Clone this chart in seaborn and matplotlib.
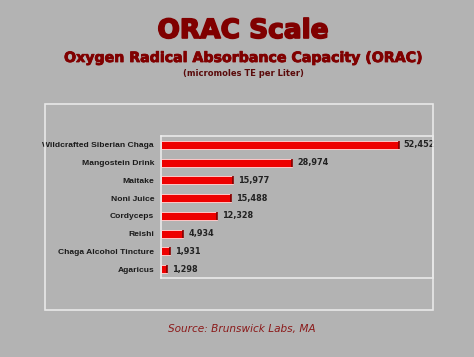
import matplotlib
matplotlib.use("Agg")
import matplotlib.pyplot as plt
import matplotlib.patheffects as pe
from matplotlib.patches import Rectangle
import pandas as pd
import seaborn as sns

# ORAC values (micromoles TE per liter)
products = ["Wildcrafted Siberian Chaga", "Mangostein Drink", "Maitake", "Noni Juice",
            "Cordyceps", "Reishi", "Chaga Alcohol Tincture", "Agaricus"]
orac = [52452, 28974, 15977, 15488, 12328, 4934, 1931, 1298]

df = pd.DataFrame({"product": products, "orac": orac})

bg = "#b3b3b3"
dark_red = "#800000"

sns.set_style("white", {"axes.facecolor": bg, "figure.facecolor": bg})
plt.rcParams["font.family"] = ["DejaVu Sans"]

fig = plt.figure(figsize=(4.74, 3.57), dpi=100)
fig.patch.set_facecolor(bg)

# outer frame around the chart
fig.patches.append(Rectangle((45 / 474, 47 / 357), 388 / 474, 206 / 357,
                             transform=fig.transFigure, fill=False,
                             edgecolor="#e8e8e8", linewidth=1.2))

ax = fig.add_axes([161 / 474, 79 / 357, 272 / 474, 142 / 357])
ax.set_facecolor(bg)

sns.barplot(data=df, x="orac", y="product", color="#ee0000", width=0.46,
            edgecolor="#ffc8c8", linewidth=0.7, saturation=1, ax=ax)

# darker cap at the end of each bar
ax.vlines(df["orac"], [i - 0.23 for i in range(len(df))], [i + 0.23 for i in range(len(df))],
          color="#7a0000", linewidth=1.2)

for i, v in enumerate(orac):
    ax.text(v + 1100, i, f"{v:,}", va="center", ha="left", fontsize=5.9,
            fontweight="bold", color="#222222")

ax.set_xlim(0, 60000)
ax.set_ylim(7.5, -0.5)
ax.set_xlabel("")
ax.set_ylabel("")
ax.set_xticks([])
ax.tick_params(axis="y", length=3, color="white", width=0.8, pad=2,
               labelsize=6.1, labelcolor="#1a1a1a")
for lbl in ax.get_yticklabels():
    lbl.set_fontweight("bold")
    lbl.set_family(["Liberation Sans"])
for side in ["left", "top", "bottom", "right"]:
    ax.spines[side].set_color("#eeeeee")
    ax.spines[side].set_linewidth(1.1)

cx = 243 / 474
t1 = fig.text(cx, 1 - 31 / 357, "ORAC Scale", ha="center", va="center", fontsize=19,
              fontweight="bold", color=dark_red)
t1.set_path_effects([pe.SimpleLineShadow(offset=(1.2, -1.2), shadow_color="#2a0000", alpha=0.7),
                     pe.Stroke(linewidth=1.2, foreground=dark_red), pe.Normal()])
t2 = fig.text(cx, 1 - 58 / 357, "Oxygen Radical Absorbance Capacity (ORAC)", ha="center",
              va="center", fontsize=10.2, fontweight="bold", color=dark_red)
t2.set_path_effects([pe.SimpleLineShadow(offset=(0.7, -0.7), shadow_color="#2a0000", alpha=0.6),
                     pe.Stroke(linewidth=0.6, foreground=dark_red), pe.Normal()])
fig.text(cx, 1 - 74 / 357, "(micromoles TE per Liter)", ha="center", va="center",
         fontsize=6.0, fontweight="bold", color="#5a0a0a")

fig.text(242 / 474, 1 - 329 / 357, "Source: Brunswick Labs, MA", ha="center", va="center",
         fontsize=7.6, style="italic", color="#8b1a1a")

fig.savefig("out.png", dpi=100, facecolor=bg)
